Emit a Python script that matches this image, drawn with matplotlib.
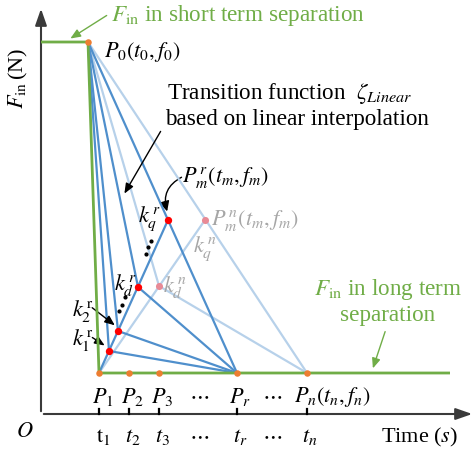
import matplotlib
matplotlib.use("Agg")
import matplotlib.pyplot as plt
from matplotlib.patches import FancyArrowPatch

plt.rcParams["font.family"] = ["Liberation Serif", "DejaVu Serif"]
plt.rcParams["mathtext.fontset"] = "stix"

# Time instants (t0, t1, t2, t3, tr, tn) and force levels
t_marks = [47, 58, 88, 118, 196, 266]
f_short = 372          # force before the transition (short term)
f_long = 41            # force after the transition (long term)
t_long_end = 409

# Breakpoints of the linear transition functions ending at P_r
k_r_t = [68, 77, 97, 127]
k_r_f = [63, 83, 127, 194]
# Breakpoints of the transition ending at P_n
k_n_t = [118, 164]
k_n_f = [128, 194]

dark_blue = "#4f8fcc"
light_blue = "#b7d1ea"
green = "#70ad47"
orange = "#ed7d31"
red = "#ff0000"
pink = "#e88a96"
gray = "#a6a6a6"

fig = plt.figure(figsize=(4.75, 4.52), dpi=100)
ax = fig.add_axes([0, 0, 1, 1])
ax.set_xlim(-41, 434)
ax.set_ylim(-37, 415)
ax.axis("off")

t0, t1, t2, t3, tr, tn = t_marks
lw_b = 1.6

# Light-blue transitions towards P_n
ax.plot([t0, tn], [f_short, f_long], color=light_blue, lw=lw_b, zorder=2)
ax.plot([t0, k_n_t[0], tn], [f_short, k_n_f[0], f_long], color=light_blue, lw=lw_b, zorder=2)
ax.plot([t1, k_n_t[1]], [f_long, k_n_f[1]], color=light_blue, lw=lw_b, zorder=2)

# Dark-blue transitions towards P_r
for kt, kf in zip(k_r_t, k_r_f):
    ax.plot([t0, kt, tr], [f_short, kf, f_long], color=dark_blue, lw=lw_b, zorder=3)
ax.plot([t1, k_r_t[-1]], [f_long, k_r_f[-1]], color=dark_blue, lw=lw_b, zorder=3)

# Green force profile
ax.plot([0, t0, t1, t_long_end], [f_short, f_short, f_long, f_long],
        color=green, lw=2.0, zorder=4, solid_capstyle="butt")

# Points
ax.scatter([t0] + t_marks[1:], [f_short] + [f_long] * 5, s=22, color=orange, zorder=6, lw=0)
ax.scatter(k_r_t, k_r_f, s=28, color=red, zorder=6, lw=0)
ax.scatter(k_n_t, k_n_f, s=26, color=pink, zorder=6, lw=0)

# Axes with arrows
ax.annotate("", xy=(0, 408), xytext=(0, 0),
            arrowprops=dict(arrowstyle="-|>,head_length=1.0,head_width=0.35", color="#3a3a3a", lw=1.5))
ax.annotate("", xy=(434, 0), xytext=(0, 0),
            arrowprops=dict(arrowstyle="-|>,head_length=1.0,head_width=0.35", color="#3a3a3a", lw=1.5))
for t in t_marks[1:]:
    ax.plot([t, t], [0, 5], color="black", lw=1.6, zorder=3)

fs = 16      # math labels
fs_t = 16.7  # plain-text phrases
# Axis labels
ax.text(-23, 337, r"$F_{\rm in}\,$(N)", rotation=90, ha="center", va="center", fontsize=fs)
ax.text(-16, -18, r"$O$", ha="center", va="center", fontsize=fs)
ax.text(379, -22, r"Time ($s$)", ha="center", va="center", fontsize=fs)

# Bottom point labels
bottom_labels = [r"$P_1$", r"$P_2$", r"$P_3$", r"$\cdots$", r"$P_r$", r"$\cdots$"]
bottom_x = [t1 + 4, t2 + 4, t3 + 3, 158, tr + 3, 231]
for lab, x in zip(bottom_labels, bottom_x):
    ax.text(x, 18, lab, ha="center", va="center", fontsize=fs)
ax.text(tn - 13, 18, r"$P_n(t_n,f_n)$", ha="left", va="center", fontsize=fs)

tick_labels = [r"$\mathrm{t}_1$", r"$t_2$", r"$t_3$", r"$\cdots$", r"$t_r$", r"$\cdots$", r"$t_n$"]
tick_x = [t1 + 4, t2 + 4, t3 + 3, 158, tr + 3, 231, tn + 3]
for lab, x in zip(tick_labels, tick_x):
    ax.text(x, -22, lab, ha="center", va="center", fontsize=fs)

# Annotations
ax.text(70, 400, r"$F_{\rm in}$ in short term separation", color=green, ha="left", va="center", fontsize=fs_t)
ax.annotate("", xy=(27, 374), xytext=(68, 400),
            arrowprops=dict(arrowstyle="-|>,head_length=0.6,head_width=0.25", color=green, lw=1.0))
ax.text(63, 363, r"$P_0(t_0,f_0)$", ha="left", va="center", fontsize=fs)

ax.text(126, 322, r"Transition function  $\zeta_{\it Linear}$", ha="left", va="center", fontsize=fs_t)
ax.text(124, 296, "based on linear interpolation", ha="left", va="center", fontsize=fs_t)
ax.annotate("", xy=(82, 218), xytext=(121, 285),
            arrowprops=dict(arrowstyle="-|>,head_length=0.6,head_width=0.25", color="black", lw=1.0))

ax.text(141, 237, r"$P_m^{\,r}(t_m,f_m)$", ha="left", va="center", fontsize=fs)
ax.add_patch(FancyArrowPatch((143, 238), (127, 200), connectionstyle="arc3,rad=0.45",
                             arrowstyle="-|>,head_length=6,head_width=3", color="black", lw=1.0))
ax.text(170, 194, r"$P_m^{\,n}(t_m,f_m)$", ha="left", va="center", fontsize=fs, color=gray)
ax.text(164, 166, r"$k_q^{\,n}$", ha="center", va="center", fontsize=fs, color=gray)
ax.text(134, 128, r"$k_d^{\,n}$", ha="center", va="center", fontsize=fs, color=gray)

ax.text(108, 196, r"$k_q^{\,r}$", ha="center", va="center", fontsize=fs)
ax.text(84, 130, r"$k_d^{\,r}$", ha="center", va="center", fontsize=fs)
ax.text(42, 104, r"$k_2^{\,\mathrm{r}}$", ha="center", va="center", fontsize=fs)
ax.text(42, 75, r"$k_1^{\,\mathrm{r}}$", ha="center", va="center", fontsize=fs)
ax.annotate("", xy=(76, 87), xytext=(49, 108),
            arrowprops=dict(arrowstyle="-|>,head_length=0.6,head_width=0.25", color="black", lw=1.0))
ax.annotate("", xy=(66, 67), xytext=(49, 78),
            arrowprops=dict(arrowstyle="-|>,head_length=0.6,head_width=0.25", color="black", lw=1.0))

# Ellipsis dots along the breakpoint line
ax.scatter([78.3, 81.3, 84], [103.3, 109, 116.7], s=4, color="black", zorder=5)
ax.scatter([105, 107, 109.7], [160, 167, 173.3], s=4, color="black", zorder=5)

ax.text(347, 125, r"$F_{\rm in}$ in long term", color=green, ha="center", va="center", fontsize=fs_t)
ax.text(347, 100, "separation", color=green, ha="center", va="center", fontsize=fs_t)
ax.annotate("", xy=(331, 43), xytext=(345, 85),
            arrowprops=dict(arrowstyle="-|>,head_length=0.6,head_width=0.25", color=green, lw=1.0))

fig.savefig("out.png", dpi=100)
